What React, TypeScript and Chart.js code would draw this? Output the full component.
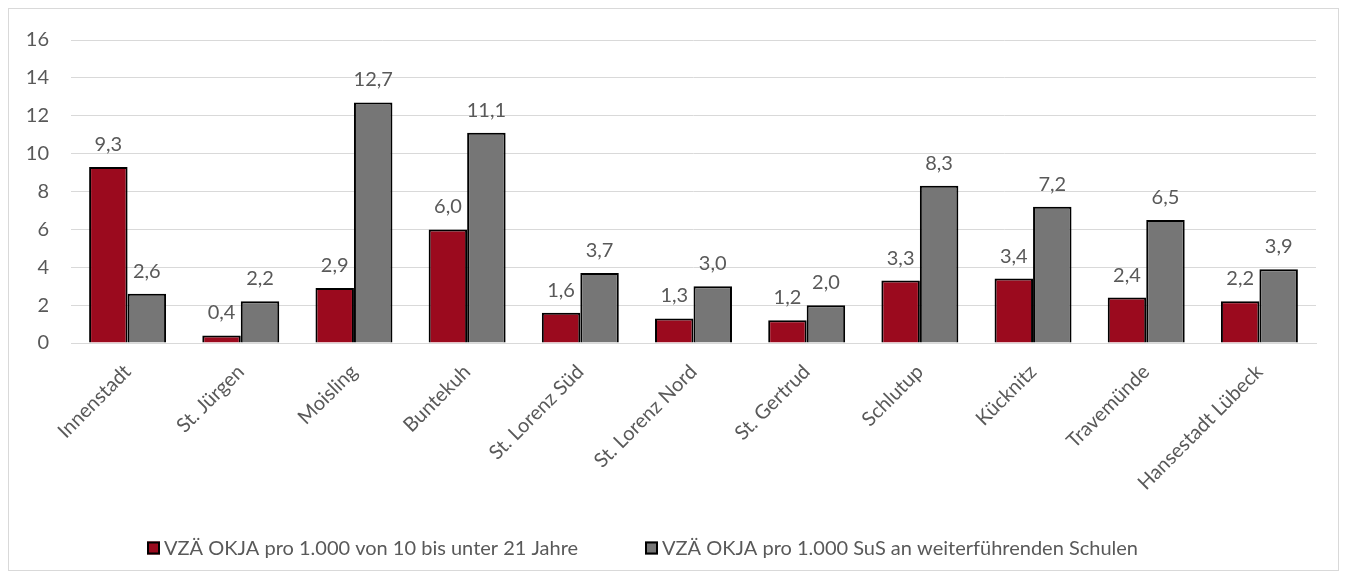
import React, { useEffect, useRef } from "react";
import { Chart, registerables } from "chart.js";

Chart.register(...registerables);

const categories = [
  "Innenstadt",
  "St. Jürgen",
  "Moisling",
  "Buntekuh",
  "St. Lorenz Süd",
  "St. Lorenz Nord",
  "St. Gertrud",
  "Schlutup",
  "Kücknitz",
  "Travemünde",
  "Hansestadt Lübeck",
];
const seriesNames = [
  "VZÄ OKJA pro 1.000 von 10 bis unter 21 Jahre",
  "VZÄ OKJA pro 1.000 SuS an weiterführenden Schulen",
];
const seriesColors = ["#9B0A1E", "#767676"];
const redValues = [9.3, 0.4, 2.9, 6.0, 1.6, 1.3, 1.2, 3.3, 3.4, 2.4, 2.2];
const greyValues = [2.6, 2.2, 12.7, 11.1, 3.7, 3.0, 2.0, 8.3, 7.2, 6.5, 3.9];
const yTicks = [0, 2, 4, 6, 8, 10, 12, 14, 16];

const FONT = "Lato, 'Open Sans', sans-serif";
const FS = 20;
const TEXT = "#595959";

const valueLabels = {
  id: "valueLabels",
  afterDatasetsDraw(chart: any) {
    const ctx = chart.ctx;
    ctx.save();
    ctx.font = `${FS}px ${FONT}`;
    ctx.fillStyle = TEXT;
    ctx.textAlign = "center";
    ctx.textBaseline = "alphabetic";
    chart.data.datasets.forEach((ds: any, i: number) => {
      const meta = chart.getDatasetMeta(i);
      meta.data.forEach((bar: any, j: number) => {
        const v = ds.data[j] as number;
        ctx.fillText(v.toFixed(1).replace(".", ","), bar.x, bar.y - 16);
      });
    });
    ctx.restore();
  },
};

const legendStarts = [138, 636];

const customLegend = {
  id: "customLegend",
  afterDraw(chart: any) {
    const ctx = chart.ctx;
    ctx.save();
    ctx.font = `${FS}px ${FONT}`;
    const box = 13;
    const gapBoxText = 4;
    const cy = 539;
    seriesNames.forEach((n, i) => {
      const x = legendStarts[i];
      ctx.fillStyle = seriesColors[i];
      ctx.fillRect(x, cy - box / 2, box, box);
      ctx.strokeStyle = "#000";
      ctx.lineWidth = 2;
      ctx.strokeRect(x + 1, cy - box / 2 + 1, box - 2, box - 2);
      ctx.fillStyle = TEXT;
      ctx.textAlign = "left";
      ctx.textBaseline = "middle";
      ctx.fillText(n, x + box + gapBoxText, cy + 1);
    });
    ctx.restore();
  },
};

export default function App() {
  const ref = useRef<HTMLCanvasElement | null>(null);
  useEffect(() => {
    if (!ref.current) return;
    const chart = new Chart(ref.current, {
      type: "bar",
      data: {
        labels: categories,
        datasets: [
          {
            label: seriesNames[0],
            data: redValues,
            backgroundColor: seriesColors[0],
            borderColor: "#000000",
            borderWidth: 2,
          },
          {
            label: seriesNames[1],
            data: greyValues,
            backgroundColor: seriesColors[1],
            borderColor: "#000000",
            borderWidth: 2,
          },
        ],
      },
      options: {
        animation: false,
        responsive: true,
        maintainAspectRatio: false,
        datasets: { bar: { categoryPercentage: 0.68, barPercentage: 1 } },
        layout: { padding: { top: 31, right: 22, bottom: 40, left: 0 } },
        scales: {
          x: {
            grid: { display: false },
            border: { display: true, color: "#d9d9d9", width: 1 },
            ticks: {
              color: TEXT,
              font: { family: FONT, size: FS },
              minRotation: 45,
              maxRotation: 45,
              autoSkip: false,
              padding: 9,
            },
            afterFit(scale: any) {
              scale.height = 187;
              scale.paddingTop = 0;
              scale.paddingBottom = 0;
            },
          },
          y: {
            min: 0,
            max: 16,
            afterBuildTicks(scale: any) {
              scale.ticks = yTicks.map((v) => ({ value: v }));
            },
            grid: { color: "#d9d9d9", lineWidth: 1, drawTicks: false },
            border: { display: false },
            ticks: {
              color: TEXT,
              font: { family: FONT, size: FS },
              padding: 22,
            },
            afterFit(scale: any) {
              scale.width = 62;
              scale.paddingTop = 0;
              scale.paddingBottom = 0;
            },
          },
        },
        plugins: {
          legend: { display: false },
          tooltip: { enabled: false },
        },
      },
      plugins: [valueLabels, customLegend],
    });
    return () => chart.destroy();
  }, []);
  return (
    <div
      style={{
        width: 1331,
        height: 563,
        border: "1px solid #d9d9d9",
        boxSizing: "border-box",
        position: "relative",
      }}
    >
      <canvas ref={ref} />
    </div>
  );
}
